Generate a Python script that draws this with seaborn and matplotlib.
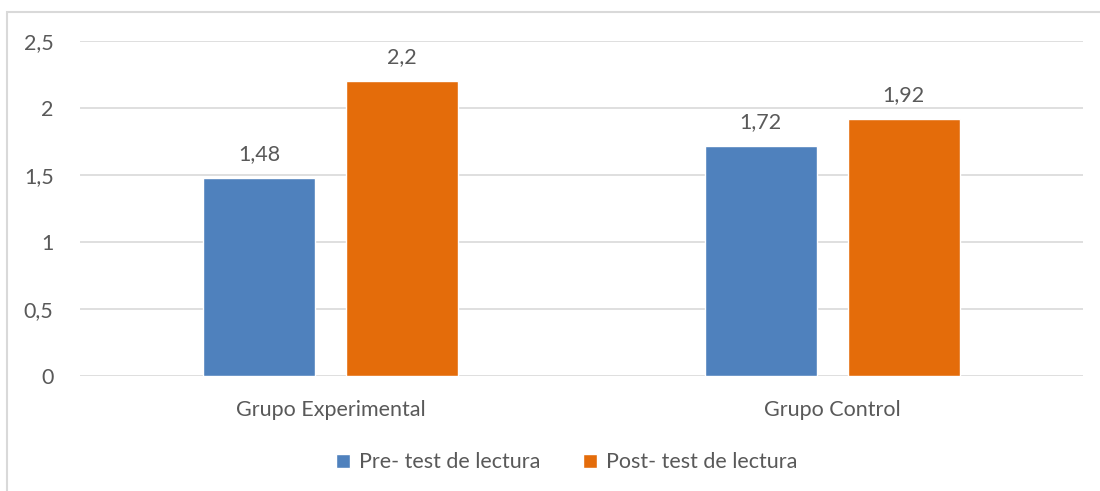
import seaborn as sns
import matplotlib.pyplot as plt
import pandas as pd
from matplotlib.patches import Rectangle

# Data
grupos = ["Grupo Experimental", "Grupo Control"]
series = ["Pre- test de lectura", "Post- test de lectura"]
pre_test = [1.48, 1.72]
post_test = [2.2, 1.92]
y_ticks = [0, 0.5, 1, 1.5, 2, 2.5]
y_tick_labels = ["0", "0,5", "1", "1,5", "2", "2,5"]

colores = ["#4F81BD", "#E46C0A"]
gris = "#595959"

if __name__ == '__main__':

    sns.set_theme(style="white")
    plt.rcParams['font.family'] = ['Lato', 'DejaVu Sans']

    df = pd.DataFrame({
        "Grupo": grupos * 2,
        "Prueba": [series[0]] * 2 + [series[1]] * 2,
        "Valor": pre_test + post_test,
    })

    fig = plt.figure(figsize=(11, 4.91), dpi=100)
    ax = fig.add_axes([80 / 1100, 1 - 376 / 491, 1003 / 1100, 335 / 491])

    sns.barplot(data=df, x="Grupo", y="Valor", hue="Prueba", order=grupos,
                hue_order=series, palette=colores, width=0.57, gap=0.217,
                saturation=1, ax=ax, errorbar=None)

    # value labels with comma decimals
    for cont in ax.containers:
        labels = [f"{v:g}".replace(".", ",") for v in cont.datavalues]
        ax.bar_label(cont, labels=labels, padding=10, fontsize=15.5, color=gris)

    ax.set_ylim(0, 2.5)
    ax.set_xlim(-0.5, 1.5)
    ax.set_yticks(y_ticks)
    ax.set_yticklabels(y_tick_labels)
    ax.yaxis.grid(True, color="#d9d9d9", linewidth=1.2)
    ax.set_axisbelow(True)
    for s in ax.spines.values():
        s.set_visible(False)
    ax.tick_params(axis="y", length=0, pad=19, labelsize=15.5, labelcolor=gris)
    ax.tick_params(axis="x", length=0, pad=17, labelsize=15.5, labelcolor=gris)
    ax.set_xlabel("")
    ax.set_ylabel("")

    ax.legend(loc="center", bbox_to_anchor=(0.485, -0.258), ncol=2, frameon=False,
              fontsize=15.5, labelcolor=gris, handlelength=0.65, handleheight=0.65,
              handletextpad=0.4, columnspacing=2.0)

    # chart border (cropped by the image edge)
    fig.patches.append(Rectangle((7 / 1100, -0.1), 2, 1 - 12 / 491 + 0.1,
                                 transform=fig.transFigure, fill=False,
                                 edgecolor="#d9d9d9", linewidth=1.5))

    plt.savefig("out.png", dpi=100)
